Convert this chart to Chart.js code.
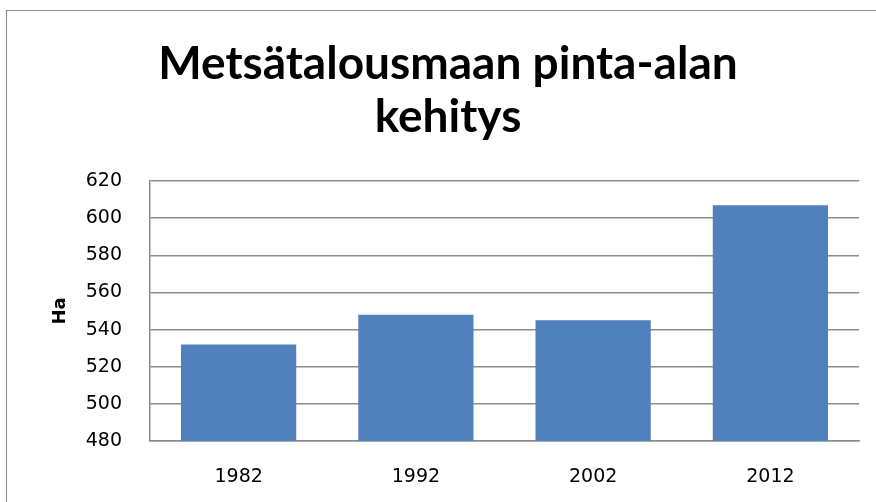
<!DOCTYPE html>
<html>
<head>
<meta charset="utf-8">
<script src="https://cdn.jsdelivr.net/npm/chart.js@4"></script>
<style>
  html, body { margin: 0; padding: 0; background: #fff; overflow: hidden; }
  #frame {
    position: absolute; left: 6px; top: 10px; width: 900px; height: 520px;
    border-left: 1.5px solid #8c8c8c; border-top: 1.5px solid #8c8c8c;
  }
  #wrap { position: absolute; left: 0; top: 0; width: 876px; height: 502px; }
</style>
</head>
<body>
<div id="frame"></div>
<div id="wrap"><canvas id="chart"></canvas></div>
<script>
// Chart data
const years = ["1982", "1992", "2002", "2012"];
const hectares = [532, 548, 545, 607];
const titleLines = ["Metsätalousmaan pinta-alan", "kehitys"];
const axisTitle = "Ha";

const ctx = document.getElementById("chart").getContext("2d");

new Chart(ctx, {
    type: "bar",
    data: {
        labels: years,
        datasets: [{
            label: axisTitle,
            data: hectares,
            backgroundColor: "#4f81bd",
            borderWidth: 0,
            categoryPercentage: 0.65,
            barPercentage: 1,
        }],
    },
    options: {
        responsive: true,
        maintainAspectRatio: false,
        animation: false,
        layout: { padding: { top: 38, right: 17, left: 37, bottom: 0 } },
        plugins: {
            legend: { display: false },
            tooltip: { enabled: false },
            title: {
                display: true,
                text: titleLines,
                color: "#000",
                font: { family: "Lato", size: 46, weight: "bold", lineHeight: 1.152 },
                padding: { top: 0, bottom: 37 },
            },
        },
        scales: {
            x: {
                grid: { display: false, drawTicks: false },
                border: { display: true, color: "#8c8c8c", width: 1.5 },
                ticks: { color: "#000", font: { family: "DejaVu Sans", size: 19 }, padding: 25 },
                afterFit(scale) { scale.height = 61; },
            },
            y: {
                min: 480,
                max: 620,
                ticks: {
                    stepSize: 20,
                    color: "#000",
                    font: { family: "DejaVu Sans", size: 19 },
                    padding: 28,
                },
                grid: { color: "#8c8c8c", lineWidth: 1.5, drawTicks: false },
                border: { display: true, color: "#8c8c8c", width: 1.5 },
                title: {
                    display: true,
                    text: axisTitle,
                    color: "#000",
                    font: { family: "DejaVu Sans", size: 18, weight: "bold" },
                    padding: { top: 13, bottom: 0 },
                },
                afterFit(scale) { scale.width = 113; },
            },
        },
    },
});
</script>
</body>
</html>
